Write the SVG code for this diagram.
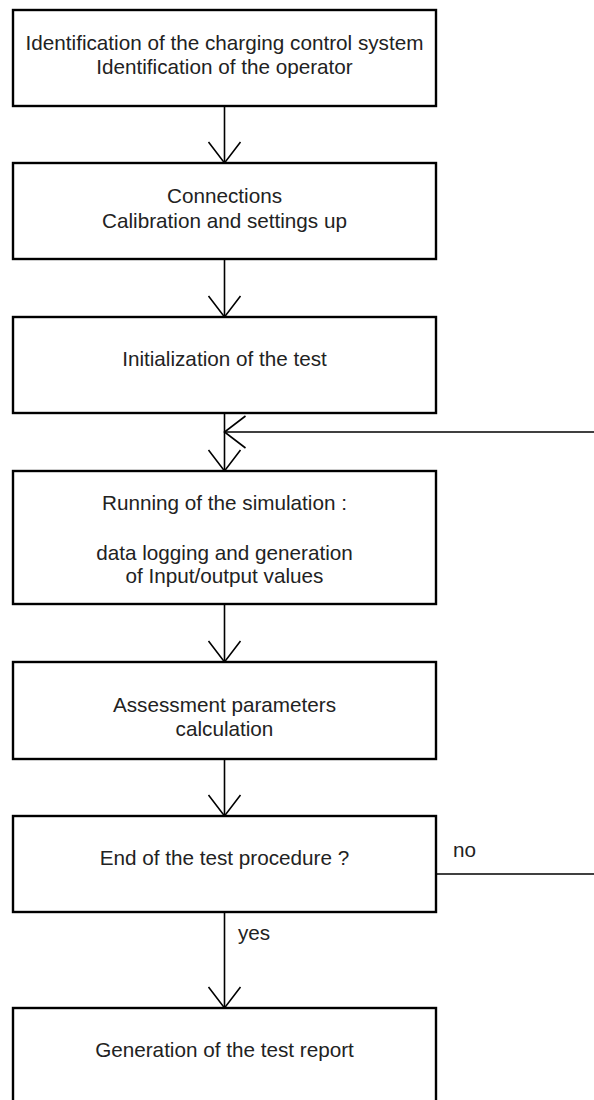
<svg xmlns="http://www.w3.org/2000/svg" width="594" height="1100" viewBox="0 0 594 1100">
<defs>
<style>
.box{fill:#fff;stroke:#000;stroke-width:2.4}
.t{font-family:"Liberation Sans",Arial,sans-serif;font-size:20.7px;fill:#222;text-anchor:middle}
.l{font-family:"Liberation Sans",Arial,sans-serif;font-size:20.7px;fill:#222}
.c{fill:none;stroke:#000;stroke-width:1.6}
</style>
<marker id="ah" viewBox="0 0 24 36" refX="22" refY="18" markerWidth="24" markerHeight="36" markerUnits="userSpaceOnUse" orient="auto">
<path d="M1,2 L22,18 L1,34" fill="none" stroke="#000" stroke-width="1.6"/>
</marker>
</defs>
<rect width="594" height="1100" fill="#fff"/>
<g id="connectors">
<line class="c" x1="224.5" y1="106" x2="224.5" y2="163" marker-end="url(#ah)"/>
<line class="c" x1="224.5" y1="259" x2="224.5" y2="317" marker-end="url(#ah)"/>
<line class="c" x1="224.5" y1="413" x2="224.5" y2="471" marker-end="url(#ah)"/>
<line class="c" x1="594" y1="432" x2="224.5" y2="432" marker-end="url(#ah)"/>
<line class="c" x1="224.5" y1="604" x2="224.5" y2="662" marker-end="url(#ah)"/>
<line class="c" x1="224.5" y1="759" x2="224.5" y2="816" marker-end="url(#ah)"/>
<line class="c" x1="224.5" y1="912" x2="224.5" y2="1008" marker-end="url(#ah)"/>
<line class="c" x1="436" y1="874" x2="594" y2="874"/>
<text class="l" x="453" y="857">no</text>
<text class="l" x="238" y="940">yes</text>
</g>
<g id="n1">
<rect class="box" x="13" y="10" width="423" height="96"/>
<text class="t" x="224.5" y="50">Identification of the charging control system</text>
<text class="t" x="224.5" y="73.5">Identification of the operator</text>
</g>
<g id="n2">
<rect class="box" x="13" y="163" width="423" height="96"/>
<text class="t" x="224.5" y="203">Connections</text>
<text class="t" x="224.5" y="228">Calibration and settings up</text>
</g>
<g id="n3">
<rect class="box" x="13" y="317" width="423" height="96"/>
<text class="t" x="224.5" y="366">Initialization of the test</text>
</g>
<g id="n4">
<rect class="box" x="13" y="471" width="423" height="133"/>
<text class="t" x="224.5" y="510">Running of the simulation :</text>
<text class="t" x="224.5" y="560">data logging and generation</text>
<text class="t" x="224.5" y="583">of Input/output values</text>
</g>
<g id="n5">
<rect class="box" x="13" y="662" width="423" height="97"/>
<text class="t" x="224.5" y="712">Assessment parameters</text>
<text class="t" x="224.5" y="736">calculation</text>
</g>
<g id="n6">
<rect class="box" x="13" y="816" width="423" height="96"/>
<text class="t" x="224.5" y="865">End of the test procedure ?</text>
</g>
<g id="n7">
<rect class="box" x="13" y="1008" width="423" height="120"/>
<text class="t" x="224.5" y="1057">Generation of the test report</text>
</g>
</svg>
